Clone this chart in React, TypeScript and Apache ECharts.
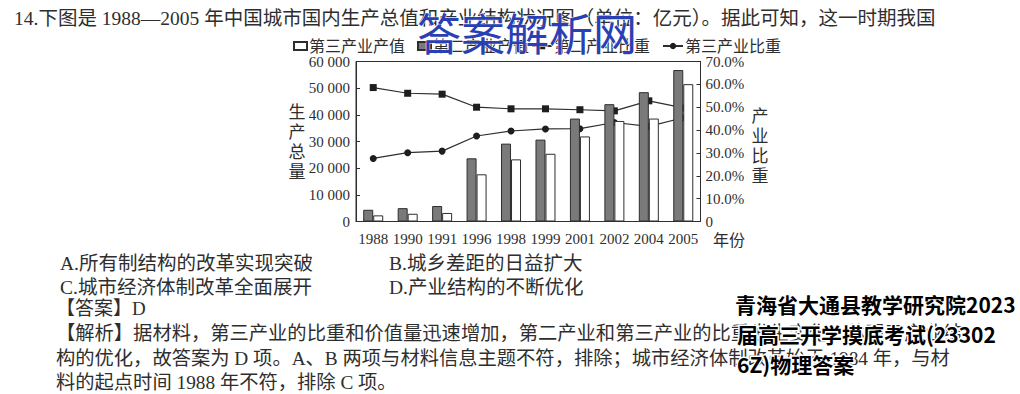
import React, { useEffect, useRef } from "react";
import * as echarts from "echarts";

const categories = ["1988", "1990", "1991", "1996", "1998", "1999", "2001", "2002", "2004", "2005"];
const secondaryValue = [4400, 5000, 5800, 23700, 29200, 30700, 38600, 44000, 48500, 56800];
const tertiaryValue = [2300, 2900, 3200, 17700, 23300, 25400, 31900, 37700, 38600, 51500];
const secondaryShare = [58.6, 56.1, 55.7, 50.0, 49.3, 49.3, 48.9, 48.4, 52.8, 49.7];
const tertiaryShare = [27.6, 30.1, 30.8, 37.4, 39.6, 40.5, 40.6, 43.3, 41.6, 45.4];

const seriesNames = ["第三产业产值", "第二产业产值", "第二产业比重", "第三产业比重"];

const FONT = "'Liberation Serif', 'Noto Sans CJK SC', serif";
const INK = "#2e2e2e";

const questionText = "14.下图是 1988—2005 年中国城市国内生产总值和产业结构状况图（单位：亿元）。据此可知，这一时期我国";
const optionA = "A.所有制结构的改革实现突破";
const optionB = "B.城乡差距的日益扩大";
const optionC = "C.城市经济体制改革全面展开";
const optionD = "D.产业结构的不断优化";
const answerText = "【答案】D";
const analysis1 = "【解析】据材料，第三产业的比重和价值量迅速增加，第二产业和第三产业的比重发生变化，体现了产业结";
const analysis2 = "构的优化，故答案为 D 项。A、B 两项与材料信息主题不符，排除；城市经济体制改革始于 1984 年，与材";
const analysis3 = "料的起点时间 1988 年不符，排除 C 项。";
const overlay1 = "青海省大通县教学研究院2023";
const overlay2 = "届高三开学摸底考试(23302";
const overlay3 = "6Z)物理答案";
const watermark = "答案解析网";

function txt(text: string, x: number, y: number, size: number, extra: any = {}) {
  return {
    type: "text",
    x,
    y,
    z: 10,
    style: {
      text,
      fill: extra.fill || INK,
      font: `${extra.weight || "normal"} ${size}px ${extra.family || FONT}`,
      align: extra.align || "left",
      verticalAlign: "middle",
      lineHeight: extra.lineHeight,
      stroke: extra.stroke,
      lineWidth: extra.lineWidth,
    },
  };
}

export default function App() {
  const ref = useRef<HTMLDivElement>(null);
  useEffect(() => {
    document.body.style.margin = "0";
    const chart = echarts.init(ref.current!, null, { renderer: "svg" });
    chart.setOption({
      animation: false,
      backgroundColor: "#ffffff",
      grid: {
        left: 356,
        top: 61.5,
        width: 344.5,
        height: 160,
        show: true,
        borderColor: INK,
        borderWidth: 1,
      },
      legend: [
        {
          left: 288,
          top: 33,
          data: [seriesNames[0], seriesNames[1]],
          itemWidth: 13,
          itemHeight: 8,
          itemGap: 12,
          icon: "rect",
          textStyle: { fontFamily: FONT, fontSize: 16, color: INK, padding: [0, 0, 0, -3] },
        },
        {
          left: 526,
          top: 33,
          data: [seriesNames[2], seriesNames[3]],
          itemWidth: 20,
          itemHeight: 8,
          itemGap: 12,
          textStyle: { fontFamily: FONT, fontSize: 16, color: INK, padding: [0, 0, 0, -3] },
        },
      ],
      xAxis: {
        type: "category",
        data: categories,
        axisLine: { lineStyle: { color: INK, width: 1 } },
        axisTick: { inside: true, length: 4, lineStyle: { color: INK } },
        axisLabel: { fontFamily: FONT, fontSize: 15, color: INK, margin: 10, interval: 0 },
      },
      yAxis: [
        {
          type: "value",
          min: 0,
          max: 60000,
          interval: 10000,
          splitLine: { show: false },
          axisLine: { show: true, lineStyle: { color: INK } },
          axisTick: { show: true, inside: true, length: 4, lineStyle: { color: INK } },
          axisLabel: {
            fontFamily: FONT,
            fontSize: 15,
            color: INK,
            margin: 6,
            formatter: (v: number) => (v === 0 ? "0" : `${Math.floor(v / 1000)} 000`),
          },
        },
        {
          type: "value",
          min: 0,
          max: 70,
          interval: 10,
          position: "right",
          splitLine: { show: false },
          axisLine: { show: true, lineStyle: { color: INK } },
          axisTick: { show: true, inside: true, length: 4, lineStyle: { color: INK } },
          axisLabel: {
            fontFamily: FONT,
            fontSize: 15,
            color: INK,
            margin: 5,
            formatter: (v: number) => (v === 0 ? "0" : `${v.toFixed(1)}%`),
          },
        },
      ],
      series: [
        {
          name: seriesNames[1],
          type: "bar",
          data: secondaryValue,
          barWidth: 10,
          barGap: "0%",
          z: 4,
          itemStyle: { color: "#7a7a7a", borderColor: INK, borderWidth: 1 },
        },
        {
          name: seriesNames[0],
          type: "bar",
          data: tertiaryValue,
          barWidth: 10,
          barGap: "0%",
          z: 4,
          itemStyle: { color: "#ffffff", borderColor: INK, borderWidth: 1 },
        },
        {
          name: seriesNames[2],
          type: "line",
          yAxisIndex: 1,
          data: secondaryShare,
          z: 2,
          symbol: "rect",
          symbolSize: 7,
          lineStyle: { color: INK, width: 1.2 },
          itemStyle: { color: "#1e1e1e" },
        },
        {
          name: seriesNames[3],
          type: "line",
          yAxisIndex: 1,
          data: tertiaryShare,
          z: 2,
          symbol: "circle",
          symbolSize: 7,
          lineStyle: { color: INK, width: 1.2 },
          itemStyle: { color: "#1e1e1e" },
        },
      ],
      graphic: [
        txt(questionText, 14, 18, 19.5),
        txt("生\n产\n总\n量", 297, 142, 17, { align: "center", lineHeight: 20 }),
        txt("产\n业\n比\n重", 760, 146, 17, { align: "center", lineHeight: 20 }),
        txt("年份", 713, 240, 16),
        txt(optionA, 60, 263, 19.5),
        txt(optionB, 389, 263, 19.5),
        txt(optionC, 60, 287, 19.5),
        txt(optionD, 389, 287, 19.5),
        txt(answerText, 56, 308, 19),
        txt(analysis1, 56, 333, 19.3),
        txt(analysis2, 56, 358, 19.3),
        txt(analysis3, 56, 382, 19.3),
        txt(overlay1, 735, 304, 21, { weight: "bold", fill: "#000", stroke: "#fff", lineWidth: 3, family: "'Noto Sans CJK SC', sans-serif" }),
        txt(overlay2, 737, 334, 21, { weight: "bold", fill: "#000", stroke: "#fff", lineWidth: 3, family: "'Noto Sans CJK SC', sans-serif" }),
        txt(overlay3, 737, 364, 21, { weight: "bold", fill: "#000", stroke: "#fff", lineWidth: 3, family: "'Noto Sans CJK SC', sans-serif" }),
        txt(watermark, 417, 32, 44, { fill: "#2a3fb4", stroke: "#fff", lineWidth: 1, family: "'Noto Sans CJK SC', sans-serif" }),
      ],
    });
    return () => chart.dispose();
  }, []);
  return <div ref={ref} style={{ width: 1020, height: 394 }} />;
}
